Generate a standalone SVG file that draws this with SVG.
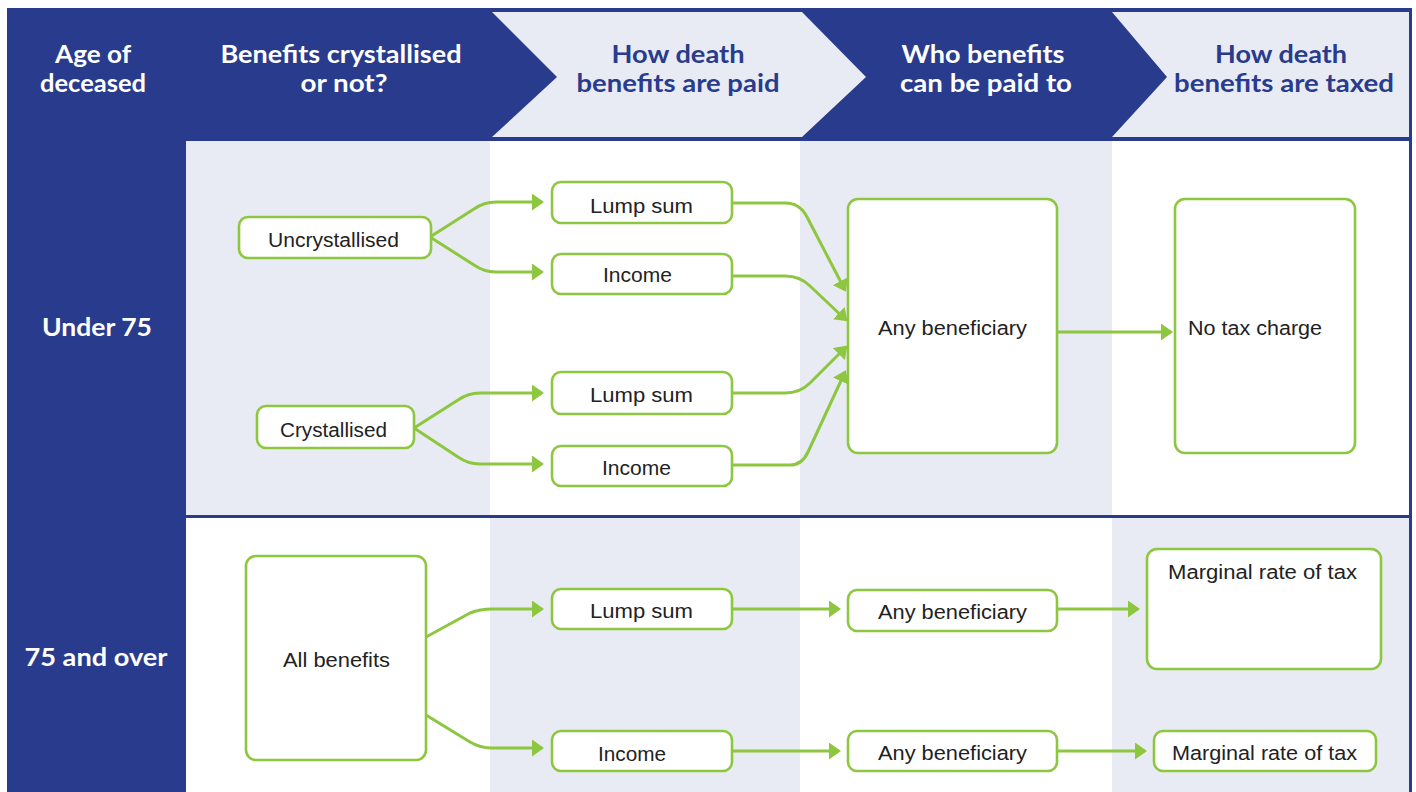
<svg xmlns="http://www.w3.org/2000/svg" width="1416" height="792" viewBox="0 0 1416 792">
<style>
.dark{fill:#293B8D}
.light{fill:#E8EBF3}
.hw{font-family:Lato,"Open Sans","Liberation Sans",sans-serif;font-weight:700;font-size:24px;fill:#FFFFFF;text-anchor:middle}
.hb{font-family:Lato,"Open Sans","Liberation Sans",sans-serif;font-weight:700;font-size:24px;fill:#293B8D;text-anchor:middle}
.row{font-family:Lato,"Open Sans","Liberation Sans",sans-serif;font-weight:700;font-size:25px;fill:#FFFFFF;text-anchor:middle}
.box{fill:#FFFFFF;stroke:#8DC63F;stroke-width:2.6}
.t{font-family:"Liberation Sans",Arial,sans-serif;font-size:20px;fill:#222222;text-anchor:middle}
.tl{font-family:"Liberation Sans",Arial,sans-serif;font-size:20px;fill:#222222}
.c{fill:none;stroke:#8DC63F;stroke-width:3;stroke-linejoin:round}
</style>
<defs>
<marker id="arr" markerUnits="userSpaceOnUse" markerWidth="12" markerHeight="17" refX="10" refY="8.5" orient="auto" viewBox="0 0 12 17">
<path d="M0,0 L12,8.5 L0,17 Z" fill="#8DC63F"/>
</marker>
</defs>
<rect width="1416" height="792" fill="#FFFFFF"/>
<g id="background">
<rect x="7" y="8" width="1405" height="133" class="dark"/>
<rect x="7" y="8" width="179" height="784" class="dark"/>
<rect x="186" y="141" width="304" height="375" class="light"/>
<rect x="490" y="141" width="310" height="375" fill="#FFFFFF"/>
<rect x="800" y="141" width="312" height="375" class="light"/>
<rect x="1112" y="141" width="298" height="375" fill="#FFFFFF"/>
<rect x="186" y="518" width="304" height="274" fill="#FFFFFF"/>
<rect x="490" y="518" width="310" height="274" class="light"/>
<rect x="800" y="518" width="312" height="274" fill="#FFFFFF"/>
<rect x="1112" y="518" width="298" height="274" class="light"/>
<polygon points="492,12 802,12 866,77 802,137 492,137 557,77" class="light"/>
<polygon points="1112,12 1409,12 1409,137 1112,137 1167,77" class="light"/>
<rect x="186" y="138" width="1226" height="3" class="dark"/>
<rect x="186" y="515" width="1226" height="3" class="dark"/>
<rect x="1409" y="8" width="3" height="784" class="dark"/>
</g>
<g id="headers">
<text class="hw" x="93" y="63" textLength="76" lengthAdjust="spacingAndGlyphs">Age of</text>
<text class="hw" x="93" y="92" textLength="106" lengthAdjust="spacingAndGlyphs">deceased</text>
<text class="hw" x="341" y="63" textLength="241" lengthAdjust="spacingAndGlyphs">Benefits crystallised</text>
<text class="hw" x="344" y="92" textLength="87" lengthAdjust="spacingAndGlyphs">or not?</text>
<text class="hb" x="678" y="63" textLength="133" lengthAdjust="spacingAndGlyphs">How death</text>
<text class="hb" x="678" y="92" textLength="203" lengthAdjust="spacingAndGlyphs">benefits are paid</text>
<text class="hw" x="983" y="63" textLength="163" lengthAdjust="spacingAndGlyphs">Who benefits</text>
<text class="hw" x="986" y="92" textLength="172" lengthAdjust="spacingAndGlyphs">can be paid to</text>
<text class="hb" x="1281" y="63" textLength="132" lengthAdjust="spacingAndGlyphs">How death</text>
<text class="hb" x="1284" y="92" textLength="220" lengthAdjust="spacingAndGlyphs">benefits are taxed</text>
<text class="row" x="97" y="336" textLength="110" lengthAdjust="spacingAndGlyphs">Under 75</text>
<text class="row" x="96" y="666" textLength="143" lengthAdjust="spacingAndGlyphs">75 and over</text>
</g>
<g id="connectors">
<path class="c" marker-end="url(#arr)" d="M430,237 L474,209 Q484,202 496,202 L542,202"/>
<path class="c" marker-end="url(#arr)" d="M430,237 L474,265 Q484,272 496,272 L542,272"/>
<path class="c" marker-end="url(#arr)" d="M414,428 L458,400 Q468,393 480,393 L542,393"/>
<path class="c" marker-end="url(#arr)" d="M414,428 L458,457 Q468,464 480,464 L542,464"/>
<path class="c" marker-end="url(#arr)" d="M732,203 L785,203 Q800,203 807,217 L845,290"/>
<path class="c" marker-end="url(#arr)" d="M732,276 L785,276 Q800,276 810,286 L846,320"/>
<path class="c" marker-end="url(#arr)" d="M732,393 L785,393 Q800,393 810,383 L846,347"/>
<path class="c" marker-end="url(#arr)" d="M732,465 L790,465 Q802,465 808,452 L845,372"/>
<path class="c" marker-end="url(#arr)" d="M1057,332 L1171,332"/>
<path class="c" marker-end="url(#arr)" d="M426,637 L470,613 Q480,609 492,609 L542,609"/>
<path class="c" marker-end="url(#arr)" d="M426,715 L470,742 Q480,748 492,748 L542,748"/>
<path class="c" marker-end="url(#arr)" d="M732,609 L839,609"/>
<path class="c" marker-end="url(#arr)" d="M1057,609 L1138,609"/>
<path class="c" marker-end="url(#arr)" d="M732,751 L839,751"/>
<path class="c" marker-end="url(#arr)" d="M1057,751 L1145,751"/>
</g>
<g id="uncrystallised">
<rect class="box" x="239" y="217" width="192" height="41" rx="9"/>
<text class="t" x="333.5" y="247" textLength="131" lengthAdjust="spacingAndGlyphs">Uncrystallised</text>
</g>
<g id="crystallised">
<rect class="box" x="257" y="406" width="157" height="42" rx="9"/>
<text class="t" x="333.5" y="437" textLength="107" lengthAdjust="spacingAndGlyphs">Crystallised</text>
</g>
<g id="lump-sum-1">
<rect class="box" x="552" y="182" width="180" height="41" rx="9"/>
<text class="t" x="641.5" y="213" textLength="103" lengthAdjust="spacingAndGlyphs">Lump sum</text>
</g>
<g id="income-1">
<rect class="box" x="552" y="254" width="180" height="40" rx="9"/>
<text class="t" x="637.5" y="282" textLength="69" lengthAdjust="spacingAndGlyphs">Income</text>
</g>
<g id="lump-sum-2">
<rect class="box" x="552" y="372" width="180" height="42" rx="9"/>
<text class="t" x="641.5" y="402" textLength="103" lengthAdjust="spacingAndGlyphs">Lump sum</text>
</g>
<g id="income-2">
<rect class="box" x="552" y="446" width="180" height="40" rx="9"/>
<text class="t" x="636.5" y="475" textLength="69" lengthAdjust="spacingAndGlyphs">Income</text>
</g>
<g id="any-beneficiary-1">
<rect class="box" x="848" y="199" width="209" height="254" rx="10"/>
<text class="tl" x="878" y="335" textLength="149" lengthAdjust="spacingAndGlyphs">Any beneficiary</text>
</g>
<g id="no-tax-charge">
<rect class="box" x="1175" y="199" width="180" height="254" rx="10"/>
<text class="tl" x="1188" y="335" textLength="134" lengthAdjust="spacingAndGlyphs">No tax charge</text>
</g>
<g id="all-benefits">
<rect class="box" x="246" y="556" width="180" height="204" rx="10"/>
<text class="t" x="336.5" y="667" textLength="107" lengthAdjust="spacingAndGlyphs">All benefits</text>
</g>
<g id="lump-sum-3">
<rect class="box" x="552" y="589" width="180" height="40" rx="9"/>
<text class="t" x="641.5" y="618" textLength="103" lengthAdjust="spacingAndGlyphs">Lump sum</text>
</g>
<g id="income-3">
<rect class="box" x="552" y="731" width="180" height="40" rx="9"/>
<text class="t" x="632" y="761" textLength="68" lengthAdjust="spacingAndGlyphs">Income</text>
</g>
<g id="any-beneficiary-2">
<rect class="box" x="848" y="590" width="209" height="41" rx="9"/>
<text class="t" x="952.5" y="619" textLength="149" lengthAdjust="spacingAndGlyphs">Any beneficiary</text>
</g>
<g id="any-beneficiary-3">
<rect class="box" x="848" y="731" width="209" height="40" rx="9"/>
<text class="t" x="952.5" y="760" textLength="149" lengthAdjust="spacingAndGlyphs">Any beneficiary</text>
</g>
<g id="marginal-rate-1">
<rect class="box" x="1147" y="549" width="234" height="120" rx="10"/>
<text class="t" x="1262.5" y="579" textLength="189" lengthAdjust="spacingAndGlyphs">Marginal rate of tax</text>
</g>
<g id="marginal-rate-2">
<rect class="box" x="1154" y="731" width="222" height="40" rx="9"/>
<text class="t" x="1264.5" y="760" textLength="185" lengthAdjust="spacingAndGlyphs">Marginal rate of tax</text>
</g>
</svg>
